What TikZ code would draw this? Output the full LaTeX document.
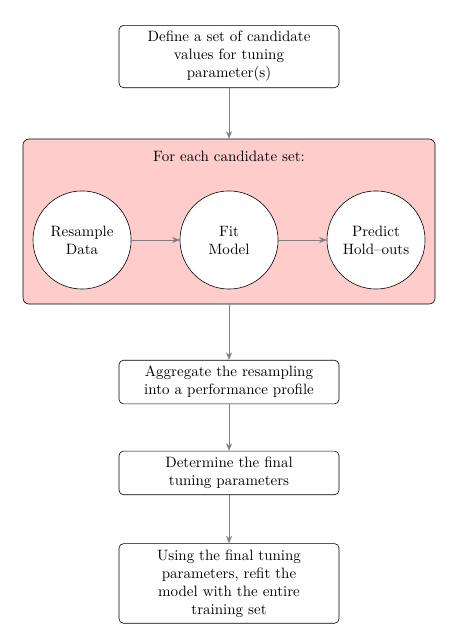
\documentclass[tikz,border=0pt]{standalone}
\usepackage{amsmath}
\usepackage{tikz}
\usetikzlibrary{positioning,arrows.meta}
\hyphenpenalty=10000
\exhyphenpenalty=10000
\tikzset{
  procbox/.style={
    draw,
    rounded corners=3pt,
    fill=white,
    align=flush center,
    text width=115pt,
    minimum width=146.7pt,
    inner ysep=4pt
  },
  loopbox/.style={
    draw,
    rounded corners=4pt,
    fill=red!20,
    minimum width=274.7pt,
    minimum height=110pt
  },
  circnode/.style={
    draw,
    circle,
    fill=white,
    align=center,
    minimum size=65.4pt,
    inner sep=0pt
  },
  flow/.style={
    draw=gray,
    -{Stealth[length=5pt,width=4pt]}
  }
}

\begin{document}
\begin{tikzpicture}
      \useasboundingbox (-152.7pt,37.7pt) rectangle (146.6pt,-383pt);

      \node [procbox] (Define) {Define a set of candidate values for tuning parameter(s)};
      \node [on grid, below=110pt of Define, loopbox] (Loop) {};
      \node [below=4.5pt of Loop.north] (Title) {For each candidate set:};

      \node [on grid, below=122.3pt of Define, circnode] (Fit) {Fit\\Model};
      \node [on grid, left=98pt of Fit, circnode] (Resample) {Resample\\Data};
      \node [on grid, right=98pt of Fit, circnode] (Predict) {Predict\\Hold--outs};
      \draw [flow] (Resample) to (Fit);
      \draw [flow] (Fit) to (Predict);

      \node [on grid, below=107pt of Loop, procbox] (Aggregate) {Aggregate the resampling into a performance profile};
      \node [on grid, below=60.6pt of Aggregate, procbox] (Determine) {Determine the final tuning parameters};
      \node [on grid, below=73.7pt of Determine, procbox] (Refit) {Using the final tuning parameters, refit the model with the entire training set};

      \draw [flow] (Define) to (Loop);
      \draw [flow] (Loop) to (Aggregate);
      \draw [flow] (Aggregate) to (Determine);
      \draw [flow] (Determine) to (Refit);
    \end{tikzpicture}
\end{document}
